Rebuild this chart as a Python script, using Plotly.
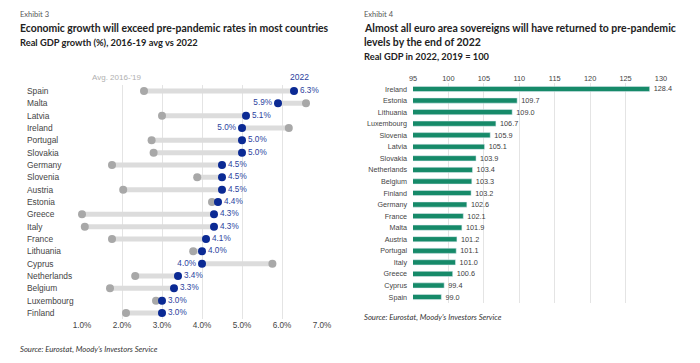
import plotly.graph_objects as go

# ---- Exhibit 3 data ----
countries3 = ["Spain", "Malta", "Latvia", "Ireland", "Portugal", "Slovakia", "Germany", "Slovenia",
              "Austria", "Estonia", "Greece", "Italy", "France", "Lithuania", "Cyprus",
              "Netherlands", "Belgium", "Luxembourg", "Finland"]
avg_2016_19 = [2.55, 6.6, 3.0, 6.17, 2.74, 2.79, 1.75, 3.88, 2.03, 4.25, 1.0, 1.07, 1.75, 3.78, 5.76,
               2.33, 1.7, 2.85, 2.1]
growth_2022 = [6.3, 5.9, 5.1, 5.0, 5.0, 5.0, 4.5, 4.5, 4.5, 4.4, 4.3, 4.3, 4.1, 4.0, 4.0, 3.4, 3.3, 3.0, 3.0]
x3_ticks = [1, 2, 3, 4, 5, 6, 7]
x3_ticklabels = ["1.0%", "2.0%", "3.0%", "4.0%", "5.0%", "6.0%", "7.0%"]

# ---- Exhibit 4 data ----
countries4 = ["Ireland", "Estonia", "Lithuania", "Luxembourg", "Slovenia", "Latvia", "Slovakia",
              "Netherlands", "Belgium", "Finland", "Germany", "France", "Malta", "Austria",
              "Portugal", "Italy", "Greece", "Cyprus", "Spain"]
gdp_2022 = [128.4, 109.7, 109.0, 106.7, 105.9, 105.1, 103.9, 103.4, 103.3, 103.2, 102.6, 102.1, 101.9,
            101.2, 101.1, 101.0, 100.6, 99.4, 99.0]
x4_ticks = [95, 100, 105, 110, 115, 120, 125, 130]

W, H = 700, 363
BLUE = "#0b2a94"
BLUE_TXT = "#2b3f9e"
GRAY_DOT = "#a8a8a8"
GRAY_BAR = "#dcdcdc"
GREEN = "#168a69"
TITLE_FONT = "Lato"
BODY_FONT = "Liberation Sans"

fig = go.Figure()

# Exhibit 3: connecting bars
for c, a, b in zip(countries3, avg_2016_19, growth_2022):
    fig.add_trace(go.Scatter(x=[a, b], y=[c, c], mode="lines",
                             line=dict(color=GRAY_BAR, width=5), hoverinfo="skip",
                             showlegend=False, xaxis="x", yaxis="y", cliponaxis=False))
fig.add_trace(go.Scatter(x=avg_2016_19, y=countries3, mode="markers",
                         marker=dict(color=GRAY_DOT, size=8), showlegend=False,
                         xaxis="x", yaxis="y", cliponaxis=False))
pos = ["middle left" if a > b else "middle right" for a, b in zip(avg_2016_19, growth_2022)]
fig.add_trace(go.Scatter(x=growth_2022, y=countries3, mode="markers+text",
                         marker=dict(color=BLUE, size=8),
                         text=[f"{v:.1f}%" for v in growth_2022], textposition=pos,
                         textfont=dict(family=BODY_FONT, size=8.2, color=BLUE_TXT),
                         showlegend=False, xaxis="x", yaxis="y", cliponaxis=False))

# Exhibit 4: bars
fig.add_trace(go.Bar(x=gdp_2022, y=countries4, orientation="h", marker=dict(color=GREEN),
                     width=0.45, text=[f"\u00a0\u00a0{v:.1f}" for v in gdp_2022], textposition="outside",
                     constraintext="none",
                     textfont=dict(family=BODY_FONT, size=7.3, color="#404040"),
                     cliponaxis=False, showlegend=False, xaxis="x2", yaxis="y2"))

y3_dom = [1 - 319.2 / H, 1 - 84.8 / H]
y4_dom = [1 - 302.8 / H, 1 - 83.2 / H]
n3 = len(countries3)
n4 = len(countries4)

fig.update_layout(
    width=W, height=H, margin=dict(l=0, r=0, t=0, b=0),
    paper_bgcolor="white", plot_bgcolor="white",
    font=dict(family=BODY_FONT, size=8.5, color="#444"),
    xaxis=dict(domain=[82 / W, 322 / W], range=[1, 7], tickvals=x3_ticks, ticktext=x3_ticklabels,
               showgrid=True, gridcolor="#e4e4e4", gridwidth=1, zeroline=False, showline=False,
               tickfont=dict(family=BODY_FONT, size=8.2, color="#444"), ticks="", anchor="y",
               automargin=False),
    yaxis=dict(domain=y3_dom, categoryorder="array", categoryarray=countries3,
               range=[n3 - 0.5, -0.5], autorange=False,
               showticklabels=False, showgrid=False, zeroline=False, anchor="x", automargin=False),
    xaxis2=dict(domain=[413 / W, 661 / W], range=[95, 130], tickvals=x4_ticks, side="top",
                showgrid=True, gridcolor="#e4e4e4", gridwidth=1, zeroline=False, showline=False,
                tickfont=dict(family=BODY_FONT, size=7.4, color="#444"), ticks="", anchor="y2",
                automargin=False),
    yaxis2=dict(domain=y4_dom, categoryorder="array", categoryarray=countries4,
                range=[n4 - 0.5, -0.5], autorange=False,
                showgrid=False, zeroline=False, ticks="", ticklabelstandoff=5,
                tickfont=dict(family=BODY_FONT, size=7.2, color="#444"), anchor="x2",
                automargin=False),
    bargap=0.5,
)

# left y labels (left aligned)
for c in countries3:
    fig.add_annotation(x=25 / W, xref="paper", y=c, yref="y", text=c, showarrow=False,
                       xanchor="left", font=dict(family=BODY_FONT, size=8.4, color="#444"))

fig.add_annotation(x=avg_2016_19[0], xref="x", y=1 - 77 / H, yref="paper", text="Avg. 2016-'19",
                   showarrow=False, xanchor="right", yanchor="middle",
                   font=dict(family=BODY_FONT, size=8, color="#b0b0b0"))
fig.add_annotation(x=growth_2022[0], xref="x", y=1 - 77 / H, yref="paper", text="2022",
                   showarrow=False, xanchor="center", yanchor="middle", xshift=5,
                   font=dict(family=BODY_FONT, size=8.5, color=BLUE_TXT))


def txt(x, y, s, size, color, bold=False, italic=False, family=TITLE_FONT):
    if bold:
        s = f"<b>{s}</b>"
    if italic:
        s = f"<i>{s}</i>"
    fig.add_annotation(x=x / W, y=1 - y / H, xref="paper", yref="paper", text=s, showarrow=False,
                       xanchor="left", yanchor="middle", font=dict(family=family, size=size, color=color))


txt(18, 15, "Exhibit 3", 7.5, "#555")
txt(18, 28, "Economic growth will exceed pre-pandemic rates in most countries", 10.4, "#222", bold=True)
txt(18, 42, "Real GDP growth (%), 2016-19 avg vs 2022", 9.3, "#222", bold=True)
txt(18, 349, "Source: Eurostat, Moody's Investors Service", 7.7, "#333", italic=True)

txt(362, 15, "Exhibit 4", 7.5, "#555")
txt(362, 28, "Almost all euro area sovereigns will have returned to pre-pandemic", 10.5, "#222", bold=True)
txt(362, 42, "levels by the end of 2022", 10.5, "#222", bold=True)
txt(362, 56, "Real GDP in 2022, 2019 = 100", 9.3, "#222", bold=True)
txt(362, 317, "Source: Eurostat, Moody's Investors Service", 7.7, "#333", italic=True)

fig.write_html("out.html", config={"displayModeBar": False},
               post_script="document.body.style.margin='0';document.body.style.overflow='hidden';")
